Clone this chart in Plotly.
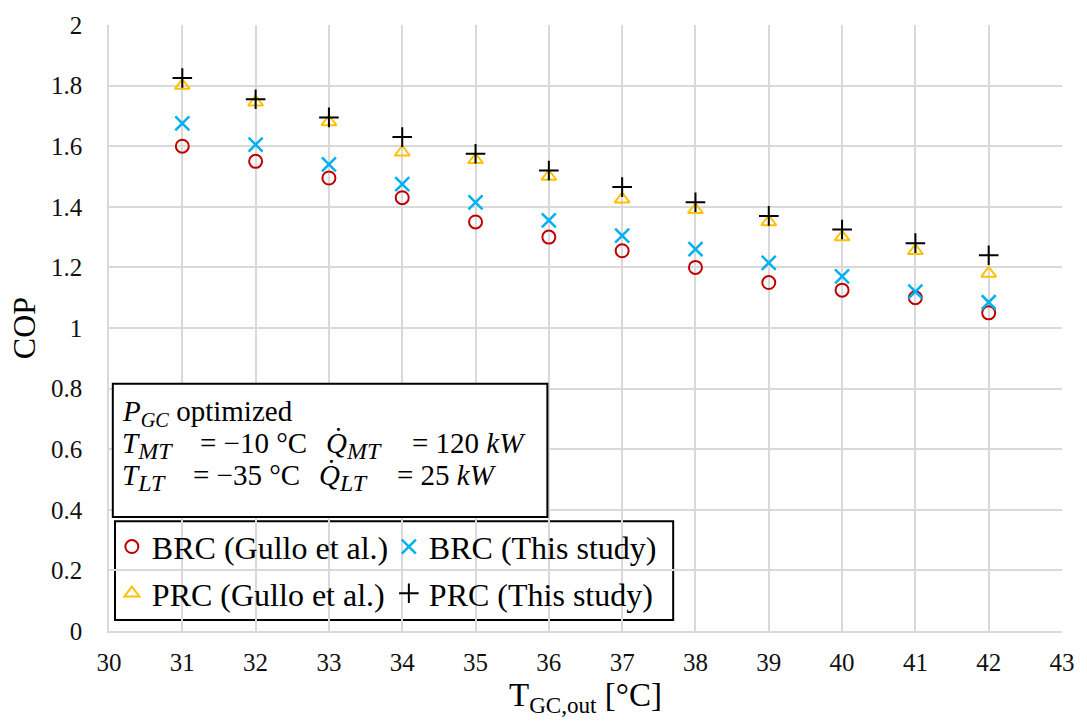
import plotly.graph_objects as go

t_gc = [31, 32, 33, 34, 35, 36, 37, 38, 39, 40, 41, 42]
brc_gullo = [1.60, 1.55, 1.495, 1.43, 1.35, 1.30, 1.255, 1.20, 1.15, 1.125, 1.10, 1.05]
brc_this = [1.675, 1.605, 1.54, 1.475, 1.415, 1.355, 1.305, 1.26, 1.215, 1.17, 1.12, 1.085]
prc_gullo = [1.80, 1.745, 1.68, 1.58, 1.555, 1.50, 1.425, 1.39, 1.35, 1.30, 1.255, 1.18]
prc_this = [1.825, 1.755, 1.695, 1.63, 1.575, 1.52, 1.465, 1.415, 1.37, 1.325, 1.28, 1.24]

FONT = "Times New Roman, Liberation Serif, serif"

fig = go.Figure()
fig.add_trace(go.Scatter(x=t_gc, y=brc_gullo, mode="markers", name="BRC (Gullo et al.)", legend="legend",
                         marker=dict(symbol="circle-open", size=13, color="#C00000", line=dict(width=2, color="#C00000"))))
fig.add_trace(go.Scatter(x=t_gc, y=brc_this, mode="markers", name="BRC (This study)", legend="legend",
                         marker=dict(symbol="x-thin-open", size=14, color="#00B0F0", line=dict(width=2.5, color="#00B0F0"))))
fig.add_trace(go.Scatter(x=t_gc, y=prc_gullo, mode="markers", name="PRC (Gullo et al.)", legend="legend2",
                         marker=dict(symbol="triangle-up-open", size=13, color="#FFC000", line=dict(width=2, color="#FFC000"))))
fig.add_trace(go.Scatter(x=t_gc, y=prc_this, mode="markers", name="PRC (This study)", legend="legend2",
                         marker=dict(symbol="cross-thin-open", size=14, color="#000000", line=dict(width=2, color="#000000"))))

leg_common = dict(orientation="h", xanchor="left", yanchor="middle",
                  bgcolor="rgba(0,0,0,0)", borderwidth=0,
                  font=dict(family=FONT, size=32, color="black"),
                  entrywidth=232, entrywidthmode="pixels", itemwidth=30, tracegroupgap=0)

fig.update_layout(
    width=1087, height=727,
    margin=dict(l=109, r=25, t=19, b=96),
    paper_bgcolor="white", plot_bgcolor="white",
    font=dict(family=FONT, size=20, color="#000000"),
    xaxis=dict(range=[30, 43], dtick=1, tick0=30, showgrid=True, gridcolor="#D9D9D9", gridwidth=1.5,
               showline=True, linecolor="#D9D9D9", linewidth=1.5, zeroline=False, ticks="",
               tickfont=dict(family=FONT, size=25, color="#111"), ticklabelstandoff=8,
               title=dict(text="T<sub>GC,out</sub> [°C]", font=dict(family=FONT, size=33), standoff=8)),
    yaxis=dict(range=[0, 2], dtick=0.2, showgrid=True, gridcolor="#D9D9D9", gridwidth=1.5,
               showline=True, linecolor="#D9D9D9", linewidth=1.5, zeroline=False, ticks="",
               tickfont=dict(family=FONT, size=25, color="#111"), ticklabelstandoff=20,
               title=dict(text="COP", font=dict(family=FONT, size=32), standoff=6)),
    legend=dict(x=0.003, y=0.139, **leg_common),
    legend2=dict(x=0.003, y=0.062, **leg_common),
    showlegend=True,
)

# legend frame
fig.add_shape(type="rect", xref="paper", yref="paper", x0=0.0063, x1=0.592, y0=0.018, y1=0.181,
              line=dict(color="black", width=2), fillcolor="white", layer="below")

# condition box
fig.add_shape(type="rect", xref="paper", yref="paper", x0=0.004, x1=0.46, y0=0.188, y1=0.408,
              line=dict(color="black", width=2), fillcolor="white", layer="above")

NB = "\u00a0"
SUB = '<sub><span style="font-size:24px"><i>{}</i></span></sub>'


def px_x(p):
    return (p - 109) / 953.0


def px_y(p):
    return (631 - p) / 612.0


pieces = [
    # (text, left px, top px)
    ("<i>P</i><sub><i>GC</i></sub> optimized", 121, 392),
    ("<i>T</i>" + SUB.format("MT"), 121, 424),
    (f"={NB}−10{NB}°C", 199, 424),
    ("<i>Q̇</i>" + SUB.format("MT"), 325, 424),
    (f"={NB}120{NB}<i>kW</i>", 411, 424),
    ("<i>T</i>" + SUB.format("LT"), 121, 456),
    (f"={NB}−35{NB}°C", 192, 456),
    ("<i>Q̇</i>" + SUB.format("LT"), 318, 456),
    (f"={NB}25{NB}<i>kW</i>", 396, 456),
]
for txt, xp, yp in pieces:
    fig.add_annotation(xref="paper", yref="paper", x=px_x(xp), y=px_y(yp), xanchor="left", yanchor="top",
                       text=txt, showarrow=False, borderpad=0,
                       font=dict(family=FONT, size=29, color="black"))

fig.write_html("out.html")
